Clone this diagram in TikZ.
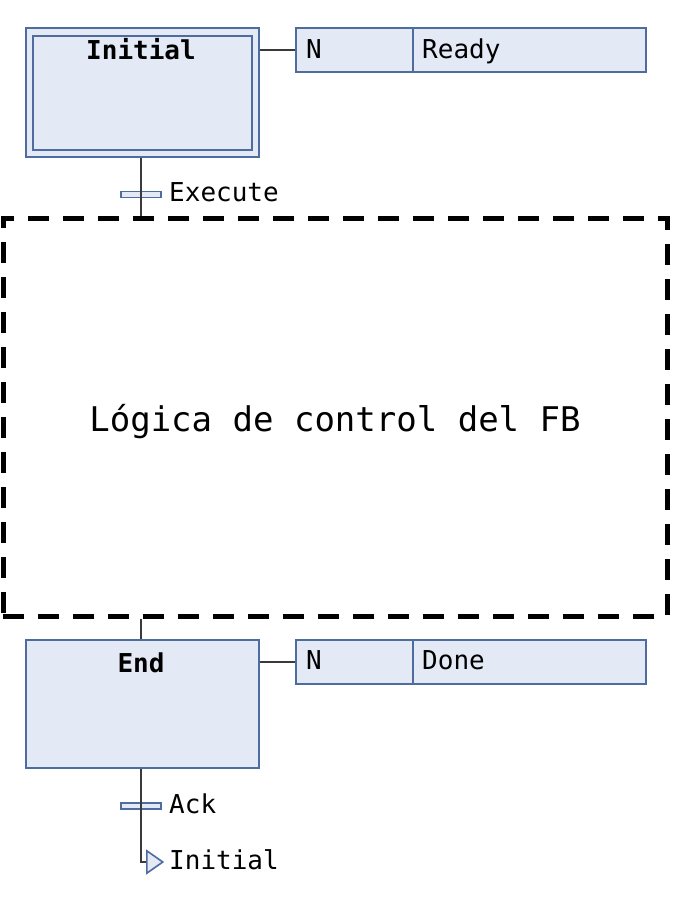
\documentclass[tikz,border=0pt]{standalone}
\usepackage{fontspec}
\setmonofont{DejaVu Sans Mono}
\usetikzlibrary{shapes.geometric}
\definecolor{sfcfill}{HTML}{E3EAF6}
\definecolor{sfcdraw}{HTML}{4E6C9F}
\definecolor{wire}{HTML}{3A3A3A}
\tikzset{
  box/.style={draw=sfcdraw, fill=sfcfill, line width=2pt, rectangle, inner sep=0pt},
  wireline/.style={draw=wire, line width=2pt},
  lbl/.style={font=\ttfamily\fontsize{26}{28}\selectfont, inner sep=0pt, anchor=base west},
  blbl/.style={font=\ttfamily\bfseries\fontsize{26}{28}\selectfont, inner sep=0pt, anchor=base},
  bar/.style={draw=sfcdraw, fill=sfcfill, line width=1.8pt, rectangle, inner sep=0pt, minimum width=40pt, minimum height=6pt},
}
\begin{document}
\begin{tikzpicture}[x=1pt,y=-1pt]
\useasboundingbox (0,0) rectangle (696,905);
% Initial step (double)
\node[box, minimum width=233pt, minimum height=129pt] (init) at (142.5,92.5) {};
\node[box, minimum width=219pt, minimum height=114pt] (initin) at (142.5,93) {};
\node[blbl] (inittxt) at (141,59) {Initial};
% action of Initial
\node[box, minimum width=117pt, minimum height=44pt] (an1) at (354.5,50) {};
\node[box, minimum width=233pt, minimum height=44pt] (ar1) at (529.5,50) {};
\node[lbl] (an1t) at (306,58) {N};
\node[lbl] (ar1t) at (422,58) {Ready};
\draw[wireline] (init.east |- an1.west) -- (an1.west);
% dashed box
\node[draw=black, line width=5pt, dash pattern=on 21pt off 14pt, rectangle, minimum width=664pt, minimum height=398pt, inner sep=0pt] (fb) at (335,417) {};
\node[font=\ttfamily\fontsize{34}{36}\selectfont, inner sep=0pt, anchor=base] (fbt) at (335,431) {Lógica de control del FB};
% transition Execute
\coordinate (t1) at (141,194.5);
\node[bar] (bar1) at (t1) {};
\draw[wireline] (init.south -| t1) -- (fb.north -| t1);
\node[lbl] (t1t) at (169,201) {Execute};
% End step
\node[box, minimum width=233pt, minimum height=128pt] (endst) at (142.5,704) {};
\node[blbl] (endtxt) at (141,672) {End};
\draw[wireline] (fb.south -| t1) -- (endst.north -| t1);
\node[box, minimum width=117pt, minimum height=44pt] (an2) at (354.5,661.5) {};
\node[box, minimum width=233pt, minimum height=44pt] (ar2) at (529.5,661.5) {};
\node[lbl] (an2t) at (306,669) {N};
\node[lbl] (ar2t) at (422,669) {Done};
\draw[wireline] (endst.east |- an2.west) -- (an2.west);
% transition Ack and jump
\coordinate (t2) at (141,806);
\coordinate (jc) at (141,862);
\node[bar] (bar2) at (t2) {};
\node[box, isosceles triangle, isosceles triangle apex angle=70, minimum height=16pt, minimum width=19pt, line width=1.6pt, anchor=west] (jmp) at (146,862) {};
\draw[wireline] (endst.south -| t2) -- (jc) -- (jmp.west);
\node[lbl] (t2t) at (169,813) {Ack};
\node[lbl] (jt) at (169,869) {Initial};
\end{tikzpicture}
\end{document}
